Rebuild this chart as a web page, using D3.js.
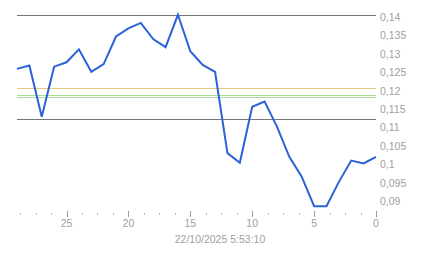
<!DOCTYPE html>
<html><head><meta charset="utf-8">
<script src="https://cdn.jsdelivr.net/npm/d3@7"></script>
<style>body{margin:0;background:#fff;}svg{display:block;}</style>
</head><body>
<svg id="c" width="443" height="258"></svg>
<script>
const daysAgo = [29,28,27,26,25,24,23,22,21,20,19,18,17,16,15,14,13,12,11,10,9,8,7,6,5,4,3,2,1,0];
const prices = [0.1259,0.1268,0.1129,0.1265,0.1277,0.1312,0.1251,0.1272,0.1347,0.1369,0.1384,0.1340,0.1318,0.1406,0.1307,0.1270,0.1251,0.1030,0.1004,0.1156,0.1170,0.1102,0.1020,0.0966,0.0886,0.0886,0.0952,0.1010,0.1002,0.1020];
const refLines = [
  {name:"max", value:0.14055, color:"#777777"},
  {name:"ref", value:0.11228, color:"#777777"},
  {name:"orange", value:0.1207, color:"#e6cc80"},
  {name:"green1", value:0.1189, color:"#a8dc98"},
  {name:"green2", value:0.1183, color:"#a8dc98"}
];
const yTicks = [0.09,0.095,0.1,0.105,0.11,0.115,0.12,0.125,0.13,0.135,0.14];
const xMajorTicks = [0,5,10,15,20,25];
const xMinorTicks = d3.range(0, 29, 1.25);
const dateLabel = "22/10/2025 5:53:10";

const svg = d3.select("#c");
const x = d3.scaleLinear().domain([29,0]).range([17,376]);
const y = d3.scaleLinear().domain([0.09,0.14]).range([201,17]);
const loc = d3.formatLocale({decimal:",", thousands:".", grouping:[3], currency:["","€"]});
const fmt = v => loc.format(",")(+v.toFixed(3));
const font = "'Liberation Sans', Arial, sans-serif";

// reference lines
svg.append("g").selectAll("line").data(refLines).join("line")
  .attr("x1", x(29)).attr("x2", x(0))
  .attr("y1", d => Math.round(y(d.value))+0.5).attr("y2", d => Math.round(y(d.value))+0.5)
  .attr("stroke", d => d.color).attr("stroke-width", 1);

// y labels
svg.append("g").selectAll("text").data(yTicks).join("text")
  .attr("x", 380).attr("y", d => y(d)+4)
  .attr("fill", "#a0a0a0").attr("font-family", font).attr("font-size", "10.5px")
  .text(d => fmt(d));

// x ticks
svg.append("g").selectAll("line").data(xMinorTicks.filter(v => v % 5 !== 0)).join("line")
  .attr("x1", d => Math.round(x(d))+0.5).attr("x2", d => Math.round(x(d))+0.5)
  .attr("y1", 213).attr("y2", 215).attr("stroke", "#b8b8b8");
svg.append("g").selectAll("line").data(xMajorTicks).join("line")
  .attr("x1", d => Math.round(x(d))+0.5).attr("x2", d => Math.round(x(d))+0.5)
  .attr("y1", 211).attr("y2", 217).attr("stroke", "#999");
svg.append("g").selectAll("text").data(xMajorTicks).join("text")
  .attr("x", d => x(d)).attr("y", 227).attr("text-anchor", "middle")
  .attr("fill", "#a0a0a0").attr("font-family", font).attr("font-size", "10.5px")
  .text(d => d);
svg.append("text").attr("x", 220).attr("y", 243).attr("text-anchor", "middle")
  .attr("fill", "#a0a0a0").attr("font-family", font).attr("font-size", "10.5px")
  .text(dateLabel);

// price line
const line = d3.line().x((d,i) => x(daysAgo[i])).y(d => y(d));
svg.append("path").datum(prices).attr("d", line)
  .attr("fill", "none").attr("stroke", "#2b62d9").attr("stroke-width", 2)
  .attr("stroke-linejoin", "miter");
</script>
</body></html>
